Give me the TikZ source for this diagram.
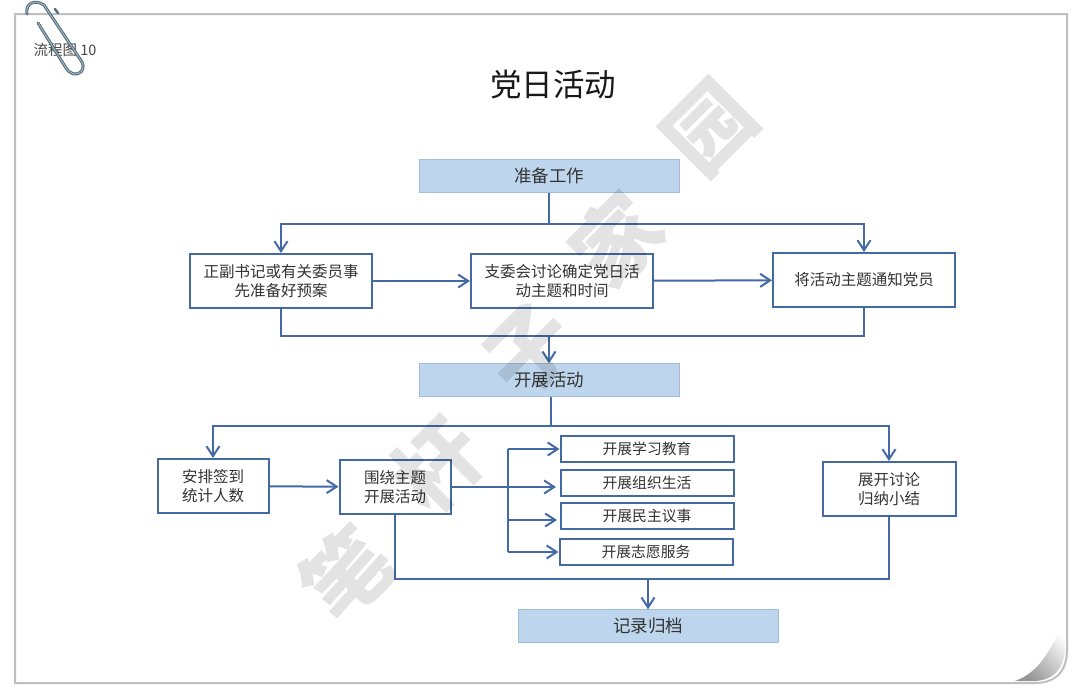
\documentclass[tikz,border=0pt]{standalone}
\usepackage{fontspec}
\setmainfont{Noto Sans CJK SC}
\definecolor{flowblue}{RGB}{68,106,165}
\definecolor{headfill}{RGB}{190,214,237}
\definecolor{headline}{RGB}{160,188,215}
\definecolor{clipgray}{RGB}{88,112,128}
\definecolor{clipshine}{RGB}{170,190,200}
\tikzset{every picture/.style={x=1pt,y=-1pt}}
\usetikzlibrary{arrows.meta,calc,positioning}
\tikzset{
  headbox/.style={draw=headline, fill=headfill, minimum width=260pt, minimum height=33pt, inner sep=0pt, text=black!80, font=\fontsize{17.5}{20}\selectfont},
  stepbox/.style={draw=flowblue, line width=2pt, fill=white, inner sep=0pt, align=center, text=black!80, font=\fontsize{15.5}{19}\selectfont},
  taskbox/.style={stepbox, minimum width=173pt, minimum height=26pt, font=\fontsize{14.8}{17}\selectfont},
  flow/.style={draw=flowblue, line width=2pt},
  flowarrow/.style={flow, -{Straight Barb[length=10pt,width=13pt]}},
  markchar/.style={text=black, text opacity=0.11, rotate=45, font=\fontsize{86}{90}\selectfont\bfseries},
}
\begin{document}
\begin{tikzpicture}
  \useasboundingbox (0,0) rectangle (1080,697);

  % sheet
  \fill [white] (0,0) rectangle (1080,697);
  \draw [black!25, line width=2pt, fill=white]
    (15,14) -- (1067,14) -- (1067,650) .. controls (1067,672) and (1055,683) .. (1035,683) -- (15,683) -- cycle;
  \shade [left color=white, right color=black!42, shading angle=-45]
    (1015,681) .. controls (1040,672) and (1050,650) .. (1064,622) -- (1065,650) .. controls (1063,671) and (1052,680) .. (1035,681) -- cycle;

  % corner label
  \node [text=black!72, font=\fontsize{14.5}{16}\selectfont] (tag) at (65,50) {流程图 10};

  \node [text=black!90, font=\fontsize{31.5}{36}\selectfont] (title) at (553,85) {党日活动};

  % top part
  \node [headbox] (prepare) at (549,176) {准备工作};
  \node [stepbox, minimum width=182pt, minimum height=54pt] (draft) at (281,281) {正副书记或有关委员事\\先准备好预案};
  \node [stepbox, minimum width=182pt, minimum height=54pt] (discuss) at (562,281) {支委会讨论确定党日活\\动主题和时间};
  \node [stepbox, minimum width=182pt, minimum height=54pt] (notify) at (864,280) {将活动主题通知党员};

  \coordinate (splitA) at (549,224);
  \draw [flow] (prepare.south) -- (splitA);
  \draw [flowarrow] (splitA) -| (draft.north);
  \draw [flowarrow] (splitA) -| (notify.north);
  \draw [flowarrow] (draft) -- (discuss);
  \draw [flowarrow] (discuss) -- (notify);

  % middle part
  \node [headbox] (activity) at (549,380) {开展活动};
  \coordinate (joinA) at (549,336);
  \draw [flow] (draft.south) |- (joinA);
  \draw [flow] (notify.south) |- (joinA);
  \draw [flowarrow] (joinA) -- (activity.north);

  \node [stepbox, minimum width=111pt, minimum height=54pt] (signin) at (213,486) {安排签到\\统计人数};
  \node [stepbox, minimum width=111pt, minimum height=54pt] (around) at (395,487) {围绕主题\\开展活动};
  \node [stepbox, minimum width=133pt, minimum height=54pt] (sumup) at (889,489) {展开讨论\\归纳小结};
  \node [taskbox] (taskA) at (647,449) {开展学习教育};
  \node [taskbox] (taskB) at (647,483) {开展组织生活};
  \node [taskbox] (taskC) at (647,516) {开展民主议事};
  \node [taskbox] (taskD) at (646,552) {开展志愿服务};

  \coordinate (splitB) at (551,426);
  \draw [flow] (splitB |- activity.south) -- (splitB);
  \draw [flowarrow] (splitB) -| (signin.north);
  \draw [flowarrow] (splitB) -| (sumup.north);
  \draw [flowarrow] (signin) -- (around);

  % branches to the four tasks
  \coordinate (busTop) at (508,449);
  \coordinate (busLow) at (508,552);
  \coordinate (tipB) at (556,487);
  \coordinate (tipC) at (557,520);
  \draw [flow] (busTop) -- (busLow);
  \draw [flowarrow] (busTop) -- (taskA.west);
  \draw [flowarrow] (around.east |- tipB) -- (tipB);
  \draw [flowarrow] (busTop |- tipC) -- (tipC);
  \draw [flowarrow] (busLow) -- (taskD.west);

  % bottom part
  \node [headbox] (record) at (648,626) {记录归档};
  \coordinate (joinB) at (648,579);
  \draw [flow] (around.south) |- (joinB);
  \draw [flow] (sumup.south) |- (joinB);
  \draw [flowarrow] (joinB) -- (record.north);

  % watermark lies over the chart
  \node [markchar] (markA) at (346,573) {笔};
  \node [markchar] (markB) at (438,465) {杆};
  \node [markchar] (markC) at (530,350) {子};
  \node [markchar] (markD) at (616,240) {家};
  \node [markchar] (markE) at (710,128) {园};

  % paper clip
  \draw [clipgray, line width=3pt, line cap=round]
    (27,14) .. controls (25,3) and (35,-1) .. (44,5) -- (82,62) .. controls (87,72) and (74,80) .. (66,68) -- (38,23);
  \draw [clipshine, line width=.8pt, line cap=round]
    (27,14) .. controls (25,3) and (35,-1) .. (44,5) -- (82,62) .. controls (87,72) and (74,80) .. (66,68) -- (38,23);
  \draw [clipgray, line width=2.5pt, line cap=round] (55,9) -- (58,13);
\end{tikzpicture}
\end{document}
